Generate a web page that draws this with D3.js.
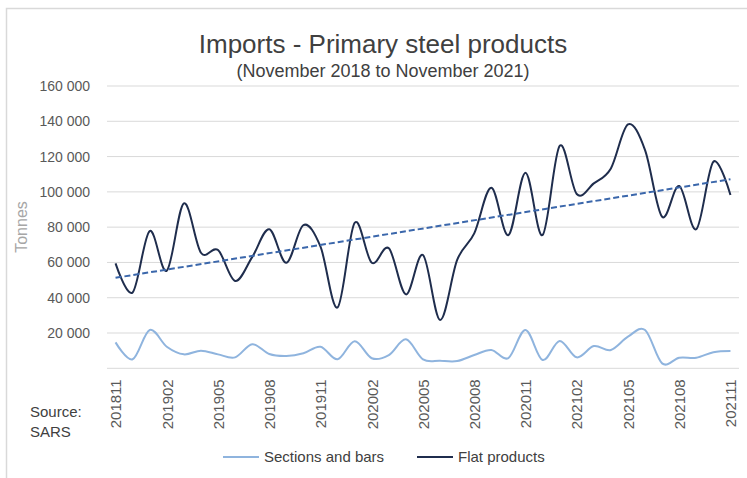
<!DOCTYPE html>
<html><head><meta charset="utf-8">
<script src="https://cdn.jsdelivr.net/npm/d3@7/dist/d3.min.js"></script>
<style>body{margin:0;background:#fff}svg{display:block;font-family:"Liberation Sans",Arial,sans-serif}</style>
</head><body><svg id="c" width="747" height="478"></svg>
<script>
const months = ["201811","201812","201901","201902","201903","201904","201905","201906","201907","201908","201909","201910",
"201911","201912","202001","202002","202003","202004","202005","202006","202007","202008","202009","202010",
"202011","202012","202101","202102","202103","202104","202105","202106","202107","202108","202109","202110","202111"];
const flatProducts = [59500,43000,77800,55300,93500,65500,67000,49500,63000,78800,59800,81200,
68900,34500,82500,59800,68000,41900,64200,27400,61400,76500,102300,75500,
110800,75500,126100,98800,104800,113300,138200,123700,85900,103300,78800,117100,98200];
const sectionsBars = [14700,5100,21700,12200,7900,10000,7900,6200,13600,8100,7000,8500,
12200,5100,15300,5700,7500,16400,5100,4300,4100,7500,10400,5800,
21700,4700,15500,6200,12600,10400,17900,21700,2800,6000,6000,9100,9800];
const yTicks = [20000,40000,60000,80000,100000,120000,140000,160000];
const xLabelEvery = 3;

const svg = d3.select("#c");
const pL = 107, pR = 739, pT = 86, pB = 368.3;

// chart border
svg.append("path").attr("d","M6.5,478 V8.5 H747").attr("fill","none").attr("stroke","#d9d9d9").attr("stroke-width",1.5);

const x = d3.scalePoint().domain(months).range([pL, pR]).padding(0.5);
const y = d3.scaleLinear().domain([0,160000]).range([pB, pT]);

// gridlines
svg.append("g").selectAll("line").data([0].concat(yTicks)).join("line")
  .attr("x1",pL).attr("x2",pR).attr("y1",d=>y(d)).attr("y2",d=>y(d))
  .attr("stroke","#d9d9d9").attr("stroke-width",1);

// y axis labels
const fmt = d => d3.format(",")(d).replace(/,/g," ");
const yAxis = d3.axisLeft(y).tickValues(yTicks).tickFormat(fmt).tickSize(0).tickPadding(0);
const ga = svg.append("g").attr("transform",`translate(90,0)`).call(yAxis);
ga.select(".domain").remove();
ga.selectAll("text").attr("font-size",14).attr("fill","#595959").attr("font-family","Liberation Sans, Arial, sans-serif");

// x axis labels
const xAxis = d3.axisBottom(x).tickValues(months.filter((d,i)=>i%xLabelEvery===0)).tickSize(0).tickPadding(0);
const gx = svg.append("g").attr("transform",`translate(0,${pB})`).call(xAxis);
gx.select(".domain").remove();
gx.selectAll("text").attr("font-size",15).attr("fill","#595959").attr("font-family","Liberation Sans, Arial, sans-serif")
  .attr("transform","rotate(-90)").attr("text-anchor","end").attr("dx",-11).attr("dy","0.35em").attr("y",0);

// trendline (linear regression of flat products)
const n = flatProducts.length;
const xs = d3.range(n);
const mx = d3.mean(xs), my = d3.mean(flatProducts);
const slope = d3.sum(xs,i=>(i-mx)*(flatProducts[i]-my))/d3.sum(xs,i=>(i-mx)*(i-mx));
const icpt = my - slope*mx;

const line = d3.line().x((d,i)=>x(months[i])).y(d=>y(d)).curve(d3.curveCatmullRom.alpha(0));
svg.append("path").datum(sectionsBars).attr("d",line).attr("fill","none").attr("stroke","#8fb4de").attr("stroke-width",2);
svg.append("path").datum(flatProducts).attr("d",line).attr("fill","none").attr("stroke","#1f2d4d").attr("stroke-width",2);
svg.append("line").attr("x1",x(months[0])).attr("y1",y(icpt)).attr("x2",x(months[n-1])).attr("y2",y(icpt+slope*(n-1)))
  .attr("stroke","#3b67ab").attr("stroke-width",2).attr("stroke-dasharray","6,3");

// titles
svg.append("text").attr("x",383).attr("y",53).attr("text-anchor","middle").attr("font-size",26).attr("fill","#404040").text("Imports - Primary steel products");
svg.append("text").attr("x",383).attr("y",77).attr("text-anchor","middle").attr("font-size",18).attr("fill","#404040").text("(November 2018 to November 2021)");

// y title
svg.append("text").attr("transform","translate(27,227) rotate(-90)").attr("text-anchor","middle").attr("font-size",16).attr("fill","#a6a6a6").text("Tonnes");

// source
svg.append("text").attr("x",30).attr("y",417).attr("font-size",15).attr("fill","#404040").text("Source:");
svg.append("text").attr("x",30).attr("y",437).attr("font-size",15).attr("fill","#404040").text("SARS");

// legend
const legend = [{name:"Sections and bars",color:"#8fb4de",x:223},{name:"Flat products",color:"#1f2d4d",x:417}];
const lg = svg.append("g").selectAll("g").data(legend).join("g").attr("transform",d=>`translate(${d.x},457)`);
lg.append("line").attr("x1",0).attr("x2",36).attr("y1",0).attr("y2",0).attr("stroke",d=>d.color).attr("stroke-width",2);
lg.append("text").attr("x",41).attr("y",5).attr("font-size",15).attr("fill","#404040").text(d=>d.name);
</script></body></html>
